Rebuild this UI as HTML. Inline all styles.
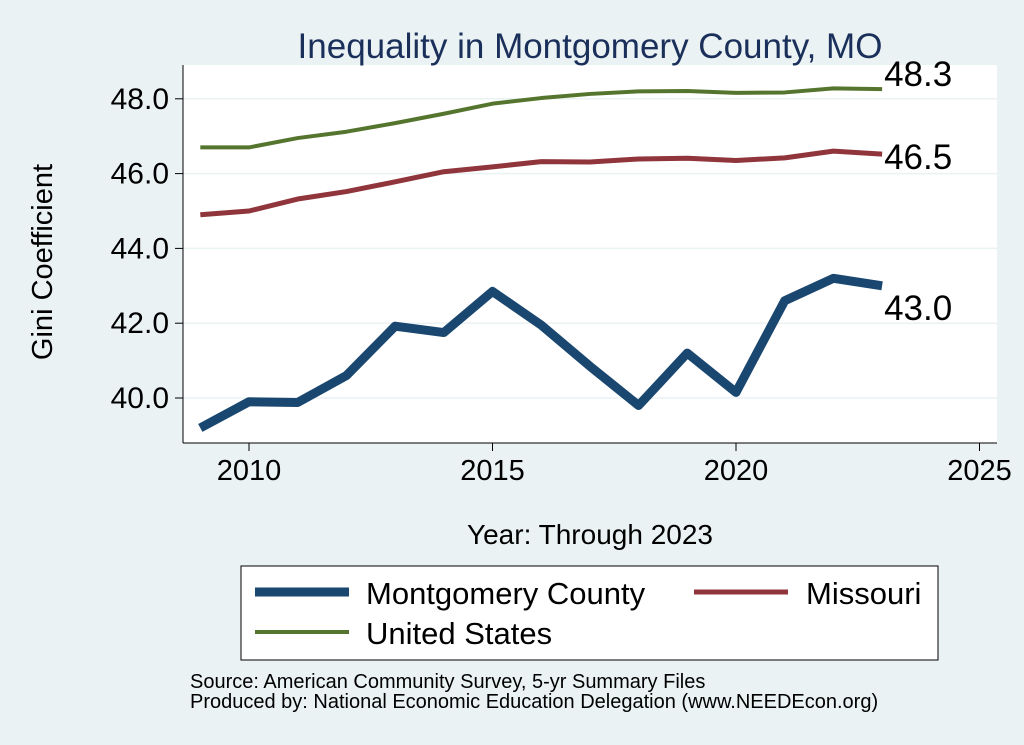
<!DOCTYPE html>
<html><head><meta charset="utf-8"><style>
body{margin:0;background:#eaf2f3;}
svg{display:block;font-family:"Liberation Sans",Arial,sans-serif;}
</style></head><body>
<svg id="chart" width="1024" height="745" viewBox="0 0 1024 745">
<rect x="0" y="0" width="1024" height="745" fill="#eaf2f3"/>
<rect x="183" y="65" width="814" height="378" fill="#ffffff"/>
<text x="590" y="58" text-anchor="middle" font-size="35" fill="#1a2f5a">Inequality in Montgomery County, MO</text>
<g id="grid"></g>
<g id="axes"></g>
<g id="series"></g>
<text transform="translate(52,262) rotate(-90)" text-anchor="middle" font-size="29" fill="#000">Gini Coefficient</text>
<text x="590" y="544" text-anchor="middle" font-size="28" fill="#000">Year: Through 2023</text>
<g>
<rect x="241" y="566" width="697" height="94" fill="#fff" stroke="#000" stroke-width="1"/>
<line x1="255" y1="592" x2="349" y2="592" stroke="#1a476f" stroke-width="9"/>
<text x="366" y="604" font-size="31">Montgomery County</text>
<line x1="694" y1="592" x2="788" y2="592" stroke="#90353b" stroke-width="5"/>
<text x="806" y="604" font-size="31">Missouri</text>
<line x1="255" y1="632" x2="349" y2="632" stroke="#55752f" stroke-width="4"/>
<text x="366" y="644" font-size="31">United States</text>
</g>
<text x="190" y="688" font-size="20">Source: American Community Survey, 5-yr Summary Files</text>
<text x="190" y="708" font-size="20">Produced by: National Economic Education Delegation (www.NEEDEcon.org)</text>
</svg>
<script>
const years=[2009,2010,2011,2012,2013,2014,2015,2016,2017,2018,2019,2020,2021,2022,2023];
const county=[39.2,39.9,39.88,40.6,41.92,41.75,42.85,41.95,40.85,39.8,41.2,40.15,42.6,43.2,43.0];
const missouri=[44.9,45.0,45.32,45.52,45.78,46.05,46.18,46.32,46.31,46.39,46.41,46.35,46.42,46.6,46.52];
const us=[46.7,46.7,46.95,47.12,47.35,47.6,47.87,48.02,48.13,48.2,48.21,48.16,48.17,48.28,48.26];
const yTicks=[40,42,44,46,48];
const xTicks=[2010,2015,2020,2025];
const NS="http://www.w3.org/2000/svg";
const xs=y=>249+(y-2010)*48.7;
const ys=v=>398-(v-40)*37.4;
function mk(tag,attrs,parent){const e=document.createElementNS(NS,tag);for(const k in attrs)e.setAttribute(k,attrs[k]);parent.appendChild(e);return e;}
const grid=document.getElementById('grid'),axes=document.getElementById('axes'),ser=document.getElementById('series');
yTicks.forEach(t=>{
 const l=mk('line',{x1:183,x2:997,y1:ys(t),y2:ys(t),stroke:'#eaf2f3','stroke-width':1.5},grid);
 
 
 const tk=mk('line',{x1:175,x2:183,y1:ys(t),y2:ys(t),stroke:'#000'},axes);
 
 
 const tx=mk('text',{x:169,y:ys(t)+10,'text-anchor':'end','font-size':30},axes);
 tx.textContent=t.toFixed(1);
 
 
});
xTicks.forEach(t=>{
 const tk=mk('line',{x1:xs(t),x2:xs(t),y1:443,y2:451,stroke:'#000'},axes);
 
 
 const tx=mk('text',{x:xs(t),y:480,'text-anchor':'middle','font-size':29},axes);
 tx.textContent=t;
 
 
});
const al=mk('line',{x1:183,x2:183,y1:65,y2:443,stroke:'#000'},axes);


const ab=mk('line',{x1:183,x2:997,y1:443,y2:443,stroke:'#000'},axes);


function line(vals,color,w,name,labDy){
 const p=mk('polyline',{points:vals.map((v,i)=>xs(years[i])+','+ys(v)).join(' '),fill:'none',stroke:color,'stroke-width':w,'stroke-linejoin':'round'},ser);
 
 
 const last=vals[vals.length-1];
 const t=mk('text',{x:xs(years[years.length-1])+2,y:ys(last)+labDy,'font-size':35},ser);
 t.textContent=last.toFixed(1);
 
 
}
line(us,'#55752f',4,'us',-3);
line(missouri,'#90353b',5,'missouri',15);
line(county,'#1a476f',9,'county',34);
</script>
</body></html>
